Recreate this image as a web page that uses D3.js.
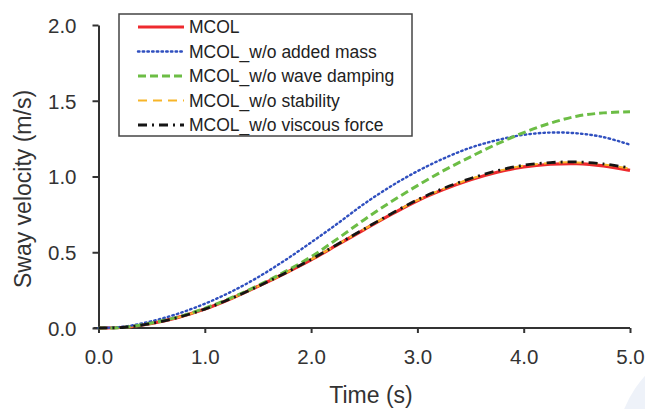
<!DOCTYPE html>
<html>
<head>
<meta charset="utf-8">
<script src="https://cdn.jsdelivr.net/npm/d3@7"></script>
<style>
    body { margin: 0; background: #fff; }
    svg { display: block; font-family: "Liberation Sans", Arial, sans-serif; }
</style>
</head>
<body>
<div id="chart"></div>
<script>
const times = [0, 0.25, 0.5, 0.75, 1.0, 1.25, 1.5, 1.75, 2.0, 2.25, 2.5, 2.75, 3.0, 3.25, 3.5, 3.75, 4.0, 4.25, 4.5, 4.75, 5.0];

const mcol = [0, 0.005, 0.03, 0.07, 0.125, 0.195, 0.275, 0.36, 0.45, 0.55, 0.65, 0.748, 0.84, 0.915, 0.978, 1.028, 1.063, 1.081, 1.085, 1.07, 1.04];
const noAddedMass = [0, 0.01, 0.045, 0.095, 0.16, 0.24, 0.335, 0.445, 0.565, 0.69, 0.82, 0.935, 1.035, 1.12, 1.19, 1.24, 1.275, 1.29, 1.285, 1.26, 1.21];
const noWaveDamping = [0, 0.005, 0.033, 0.073, 0.13, 0.2, 0.28, 0.37, 0.47, 0.59, 0.715, 0.832, 0.94, 1.04, 1.13, 1.215, 1.29, 1.352, 1.398, 1.42, 1.427];
const noStability = [0, 0.005, 0.03, 0.07, 0.125, 0.195, 0.275, 0.36, 0.452, 0.552, 0.652, 0.751, 0.843, 0.92, 0.984, 1.035, 1.071, 1.089, 1.093, 1.08, 1.052];
const noViscous = [0, 0.005, 0.03, 0.07, 0.125, 0.195, 0.275, 0.36, 0.453, 0.553, 0.654, 0.753, 0.846, 0.923, 0.987, 1.038, 1.074, 1.092, 1.096, 1.083, 1.056];

const xTicks = [0, 1, 2, 3, 4, 5];
const yTicks = [0, 0.5, 1.0, 1.5, 2.0];

const series = [
    { name: "MCOL", values: mcol, color: "#ee2a2e", width: 3.2, dash: null },
    { name: "MCOL_w/o added mass", values: noAddedMass, color: "#2f4fbf", width: 2.4, dash: "1.5,3.2" },
    { name: "MCOL_w/o wave damping", values: noWaveDamping, color: "#6cbd45", width: 3, dash: "8,4" },
    { name: "MCOL_w/o stability", values: noStability, color: "#f7b529", width: 2, dash: "9,6" },
    { name: "MCOL_w/o viscous force", values: noViscous, color: "#151515", width: 2.8, dash: "9,5,2,5" }
];

const width = 645;
const height = 409;
const margin = { top: 25, right: 15, bottom: 81, left: 98.5 };

const svg = d3.select("#chart")
    .append("svg")
    .attr("width", width)
    .attr("height", height);

// faint background shape bottom right
svg.append("circle")
    .attr("cx", 735)
    .attr("cy", 455)
    .attr("r", 120)
    .attr("fill", "#eef2f9");

const x = d3.scaleLinear().domain([0, 5]).range([margin.left, width - margin.right]);
const y = d3.scaleLinear().domain([0, 2]).range([height - margin.bottom, margin.top]);

const axisColor = "#333";
const textColor = "#333";

//axes
const xAxis = svg.append("g")
    .attr("transform", `translate(0, ${y(0)})`)
    .call(d3.axisBottom(x).tickValues(xTicks).tickFormat(d3.format(".1f")).tickSize(5).tickSizeOuter(0));

const yAxis = svg.append("g")
    .attr("transform", `translate(${x(0)}, 0)`)
    .call(d3.axisLeft(y).tickValues(yTicks).tickFormat(d3.format(".1f")).tickSize(6).tickSizeOuter(0));

[xAxis, yAxis].forEach(g => {
    g.select(".domain").attr("stroke", axisColor).attr("stroke-width", 2);
    g.selectAll(".tick line").attr("stroke", axisColor).attr("stroke-width", 2);
    g.selectAll(".tick text")
        .attr("fill", textColor)
        .style("font-size", "20.5px")
        .style("font-family", "'Liberation Sans', Arial, sans-serif");
});
xAxis.selectAll(".tick text").attr("dy", "0").attr("y", 36);
yAxis.selectAll(".tick text").attr("x", -22).attr("dy", "0.36em");
// extend x axis slightly left past y axis
xAxis.select(".domain").attr("d", `M${x(0) - 5},0H${x(5)}`);

//axis titles
svg.append("text")
    .attr("x", 371)
    .attr("y", 403)
    .attr("text-anchor", "middle")
    .attr("fill", textColor)
    .style("font-size", "23px")
    .text("Time (s)");

svg.append("text")
    .attr("transform", "translate(31, 189) rotate(-90)")
    .attr("text-anchor", "middle")
    .attr("fill", textColor)
    .style("font-size", "23px")
    .text("Sway velocity (m/s)");

//lines
const line = d3.line()
    .x((d, i) => x(times[i]))
    .y(d => y(d))
    .curve(d3.curveCatmullRom);

const order = [0, 3, 1, 2, 4];
order.forEach(k => {
    const s = series[k];
    svg.append("path")
        .datum(s.values)
        .attr("d", line)
        .attr("fill", "none")
        .attr("stroke", s.color)
        .attr("stroke-width", s.width)
        .attr("stroke-linecap", s.dash && k === 1 ? "round" : "butt")
        .attr("stroke-dasharray", s.dash);
});

//legend
const legend = svg.append("g");
legend.append("rect")
    .attr("x", 119)
    .attr("y", 14)
    .attr("width", 293)
    .attr("height", 122)
    .attr("fill", "#fff")
    .attr("stroke", "#444")
    .attr("stroke-width", 1.5);

series.forEach((s, i) => {
    const ly = 27 + i * 24.5;
    legend.append("line")
        .attr("x1", 138)
        .attr("x2", 184)
        .attr("y1", ly)
        .attr("y2", ly)
        .attr("stroke", s.color)
        .attr("stroke-width", s.width)
        .attr("stroke-linecap", i === 1 ? "round" : "butt")
        .attr("stroke-dasharray", s.dash);
    legend.append("text")
        .attr("x", 189)
        .attr("y", ly)
        .attr("dy", "0.36em")
        .attr("fill", "#222")
        .style("font-size", "17.5px")
        .text(s.name);
});
</script>
</body>
</html>
